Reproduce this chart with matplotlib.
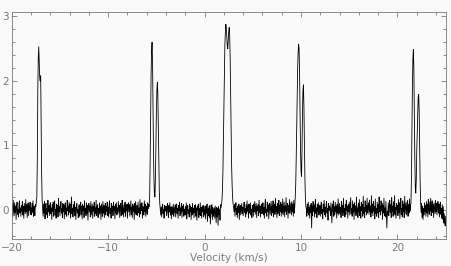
import matplotlib
matplotlib.use("Agg")
import matplotlib.pyplot as plt
import numpy as np
from matplotlib.ticker import MultipleLocator

# spectrum channels: first velocity and channel width (km/s)
v_start = -20.0
dv = 0.05

# intensity per channel, one row per 1 km/s (20 channels each)
rows = [
    [-0.06, 0.08, -0.12, 0.15, 0.02, -0.09, 0.11, -0.04, 0.06, -0.15, 0.04, 0.12, -0.07, 0.01, -0.11, 0.09, 0.14, -0.05, 0.03, -0.10],
    [0.07, -0.02, 0.13, -0.08, 0.05, -0.13, 0.10, 0.02, -0.06, 0.16, -0.03, 0.08, -0.12, 0.04, 0.11, -0.09, 0.06, -0.01, 0.12, -0.07],
    [0.03, -0.08, 0.10, -0.04, 0.14, -0.10, 0.06, 0.01, -0.09, 0.08, 0.05, 0.12, 0.20, 0.75, 1.85, 2.35, 2.53, 2.30, 2.05, 2.00],
    [2.08, 1.30, 0.55, 0.15, 0.02, -0.10, 0.09, -0.05, 0.13, -0.14, 0.04, 0.10, -0.07, 0.02, -0.12, 0.15, -0.03, 0.07, -0.09, 0.05],
    [0.11, -0.06, 0.03, -0.15, 0.08, -0.02, 0.12, -0.10, 0.06, 0.14, -0.08, 0.01, -0.13, 0.09, -0.04, 0.07, -0.11, 0.18, -0.02, 0.05],
    [-0.09, 0.06, 0.13, -0.05, 0.02, -0.12, 0.10, -0.03, 0.08, -0.14, 0.04, 0.11, -0.07, 0.03, -0.10, 0.15, -0.01, 0.06, -0.08, 0.12],
    [-0.04, 0.09, -0.13, 0.05, 0.20, -0.06, 0.02, -0.11, 0.08, -0.02, 0.13, -0.09, 0.04, -0.15, 0.07, 0.10, -0.05, 0.01, -0.12, 0.06],
    [0.08, -0.10, 0.03, 0.12, -0.07, 0.05, -0.14, 0.09, -0.01, 0.06, -0.12, 0.14, -0.04, 0.02, -0.09, 0.11, -0.06, 0.07, -0.16, 0.04],
    [0.10, -0.03, 0.06, -0.11, 0.13, -0.08, 0.01, 0.09, -0.13, 0.05, -0.02, 0.12, -0.10, 0.03, -0.06, 0.15, -0.09, 0.04, 0.08, -0.12],
    [0.02, -0.07, 0.11, -0.04, 0.06, -0.15, 0.09, 0.01, -0.10, 0.13, -0.05, 0.07, -0.12, 0.03, 0.10, -0.08, 0.05, -0.02, 0.12, -0.09],
    [0.04, -0.11, 0.08, 0.14, -0.06, 0.02, -0.13, 0.10, -0.03, 0.06, -0.09, 0.12, -0.01, 0.05, -0.14, 0.09, -0.05, 0.11, -0.08, 0.03],
    [-0.06, 0.13, -0.02, 0.07, -0.12, 0.04, 0.10, -0.09, 0.01, 0.15, -0.07, 0.03, -0.11, 0.08, -0.04, 0.12, -0.10, 0.06, -0.01, 0.09],
    [-0.13, 0.05, 0.11, -0.03, 0.08, -0.10, 0.02, 0.14, -0.07, 0.04, -0.12, 0.09, -0.02, 0.06, -0.15, 0.10, -0.05, 0.13, -0.08, 0.01],
    [0.07, -0.09, 0.12, -0.04, 0.03, -0.11, 0.16, -0.06, 0.08, -0.01, 0.11, -0.13, 0.05, 0.02, -0.08, 0.14, -0.03, 0.09, -0.10, 0.06],
    [0.04, -0.07, 0.11, 0.02, 0.08, 0.05, 0.20, 0.70, 1.40, 2.10, 2.45, 2.60, 2.30, 1.60, 0.90, 0.45, 0.22, 0.20, 0.50, 1.00],
    [1.50, 1.85, 1.98, 1.80, 1.30, 0.70, 0.30, 0.10, 0.00, -0.08, 0.05, -0.11, 0.03, 0.09, -0.06, 0.01, -0.13, 0.07, -0.02, 0.04],
    [0.06, -0.09, 0.02, 0.10, -0.05, -0.12, 0.07, -0.03, 0.11, -0.08, 0.04, -0.14, 0.05, 0.01, -0.07, 0.09, -0.10, 0.03, -0.04, 0.08],
    [-0.11, 0.04, 0.09, -0.06, 0.02, -0.13, 0.07, -0.01, 0.12, -0.09, 0.03, -0.05, 0.10, -0.12, 0.06, -0.02, 0.08, -0.10, 0.01, -0.07],
    [0.05, -0.08, 0.11, -0.14, 0.03, 0.07, -0.06, 0.00, -0.11, 0.09, -0.03, 0.06, -0.15, 0.04, -0.08, 0.10, -0.05, 0.02, -0.12, 0.07],
    [-0.04, 0.08, -0.10, 0.03, -0.16, 0.06, -0.01, 0.09, -0.12, 0.02, -0.07, 0.11, -0.09, 0.04, -0.13, 0.05, -0.03, 0.07, -0.11, 0.01],
    [-0.08, 0.06, -0.14, 0.03, -0.05, 0.09, -0.18, 0.02, -0.09, 0.05, -0.12, 0.07, -0.22, 0.01, -0.06, 0.08, -0.15, 0.04, -0.10, -0.02],
    [0.03, -0.13, 0.06, -0.08, -0.20, 0.04, -0.11, 0.02, -0.24, 0.05, -0.07, 0.01, -0.16, 0.08, 0.03, 0.08, 0.15, 0.30, 0.60, 1.10],
    [1.70, 2.20, 2.55, 2.75, 2.88, 2.82, 2.68, 2.55, 2.50, 2.62, 2.76, 2.83, 2.70, 2.35, 1.80, 1.20, 0.70, 0.40, 0.20, 0.10],
    [0.05, -0.03, 0.08, -0.10, 0.04, 0.11, -0.07, 0.02, -0.12, 0.06, -0.04, 0.09, -0.15, 0.03, 0.07, -0.08, 0.01, 0.10, -0.06, 0.04],
    [-0.09, 0.05, 0.12, -0.04, 0.02, -0.11, 0.08, -0.06, 0.14, -0.02, 0.06, -0.13, 0.09, -0.05, 0.03, 0.11, -0.08, 0.01, -0.12, 0.07],
    [0.04, -0.10, 0.09, -0.03, 0.13, -0.07, 0.02, 0.10, -0.12, 0.05, -0.01, 0.08, -0.09, 0.15, -0.04, 0.06, -0.11, 0.03, 0.09, -0.06],
    [-0.02, 0.11, -0.08, 0.04, -0.13, 0.07, 0.16, -0.05, 0.01, -0.10, 0.12, -0.03, 0.08, -0.14, 0.05, 0.10, -0.07, 0.02, 0.13, -0.09],
    [0.06, -0.04, 0.14, -0.11, 0.03, 0.09, -0.07, 0.18, -0.02, 0.05, -0.12, 0.10, -0.06, 0.02, 0.15, -0.09, 0.07, -0.03, 0.12, -0.10],
    [0.08, -0.05, 0.17, -0.08, 0.03, 0.12, -0.11, 0.06, -0.02, 0.19, -0.07, 0.04, 0.10, -0.13, 0.07, -0.04, 0.16, -0.06, 0.02, 0.11],
    [-0.08, 0.13, -0.03, 0.09, -0.10, 0.15, -0.05, 0.05, 0.20, 0.40, 0.80, 1.30, 1.80, 2.20, 2.45, 2.57, 2.50, 2.10, 1.50, 0.90],
    [0.60, 0.52, 0.90, 1.50, 1.85, 1.94, 1.60, 1.00, 0.50, 0.20, 0.05, 0.02, -0.10, 0.09, -0.05, 0.12, -0.08, 0.04, -0.13, 0.07],
    [-0.04, 0.10, -0.28, 0.06, -0.09, 0.13, -0.02, 0.08, -0.11, 0.05, 0.16, -0.06, 0.03, -0.12, 0.09, -0.03, 0.11, -0.08, 0.02, 0.07],
    [-0.10, 0.05, 0.12, -0.06, 0.01, -0.14, 0.09, -0.03, 0.15, -0.08, 0.04, -0.11, 0.07, 0.13, -0.05, 0.02, -0.16, 0.10, -0.01, 0.06],
    [0.03, -0.09, 0.11, -0.04, -0.20, 0.08, -0.02, 0.14, -0.10, 0.05, -0.07, 0.12, -0.03, 0.06, -0.13, 0.09, -0.05, 0.17, -0.08, 0.01],
    [0.10, -0.06, 0.04, -0.12, 0.13, -0.02, 0.07, -0.09, 0.18, -0.04, 0.02, -0.11, 0.09, -0.07, 0.15, -0.01, 0.06, -0.13, 0.08, -0.03],
    [0.12, -0.08, 0.05, 0.19, -0.06, 0.02, -0.10, 0.14, -0.04, 0.08, -0.15, 0.11, -0.02, 0.06, -0.09, 0.20, -0.05, 0.03, -0.12, 0.10],
    [-0.03, 0.16, -0.09, 0.05, -0.13, 0.12, -0.01, 0.08, -0.10, 0.21, -0.06, 0.04, -0.12, 0.14, -0.02, 0.07, -0.08, 0.18, -0.05, 0.03],
    [0.11, -0.07, 0.15, -0.03, 0.06, -0.11, 0.22, -0.04, 0.09, -0.09, 0.13, -0.02, 0.05, -0.14, 0.17, -0.06, 0.02, -0.10, 0.12, -0.05],
    [0.08, -0.12, 0.20, -0.03, 0.06, -0.08, 0.14, -0.01, 0.10, -0.15, 0.07, -0.05, 0.18, -0.09, 0.03, -0.11, 0.13, -0.06, -0.28, -0.02],
    [-0.07, 0.11, -0.09, 0.05, 0.15, -0.04, 0.08, -0.12, 0.19, -0.02, 0.06, -0.10, 0.13, -0.05, 0.22, -0.08, 0.04, -0.13, 0.10, 0.01],
    [0.07, -0.09, 0.16, -0.04, 0.11, -0.14, 0.05, 0.18, -0.07, 0.02, -0.11, 0.14, -0.03, 0.09, -0.12, 0.21, -0.06, 0.04, 0.12, -0.08],
    [0.03, 0.15, -0.10, 0.08, -0.05, 0.17, -0.02, 0.06, 0.10, 0.50, 1.20, 1.90, 2.35, 2.49, 2.20, 1.50, 0.80, 0.35, 0.26, 0.45],
    [0.90, 1.20, 1.55, 1.75, 1.79, 1.55, 1.00, 0.45, 0.12, -0.04, 0.10, -0.12, 0.06, -0.15, 0.02, -0.08, 0.11, -0.03, 0.07, -0.10],
    [0.13, -0.05, 0.09, -0.11, 0.16, 0.02, -0.07, 0.12, -0.02, 0.18, -0.09, 0.05, 0.14, -0.04, 0.08, -0.12, 0.11, 0.03, -0.06, 0.15],
    [-0.03, 0.10, -0.08, 0.06, 0.13, -0.05, 0.09, -0.11, 0.04, 0.12, -0.07, 0.02, -0.13, 0.08, -0.15, 0.05, -0.20, -0.06, -0.18, -0.25],
    [-0.10],
]

for i, r in enumerate(rows[:-1]):
    assert len(r) == 20, (i, len(r))

intensity = np.concatenate([np.array(r) for r in rows])
velocity = v_start + dv * np.arange(len(intensity))

bg = "#fafafa"
grey = "#7a7a7a"

fig = plt.figure(figsize=(4.52, 2.66), dpi=100, facecolor=bg)
ax = fig.add_axes([0.026, 0.102, 0.96, 0.853], facecolor=bg)

ax.plot(velocity, intensity, color="black", lw=0.6)

ax.set_xlim(-20, 25)
ax.set_ylim(-0.45, 3.07)

ax.xaxis.set_major_locator(MultipleLocator(10))
ax.xaxis.set_minor_locator(MultipleLocator(2))
ax.yaxis.set_major_locator(MultipleLocator(1))
ax.yaxis.set_minor_locator(MultipleLocator(0.2))

ax.tick_params(which="both", direction="in", top=True, right=True,
               color=grey, labelcolor=grey, labelsize=7.5, width=0.6)
ax.tick_params(which="major", length=3.8)
ax.tick_params(which="minor", length=2)
ax.tick_params(axis="y", pad=2)
ax.tick_params(axis="x", pad=3)

for s in ax.spines.values():
    s.set_color(grey)
    s.set_linewidth(0.6)

ax.set_xlabel("Velocity (km/s)", color=grey, fontsize=7.5, labelpad=0)

fig.savefig("out.png", dpi=100, facecolor=bg)
